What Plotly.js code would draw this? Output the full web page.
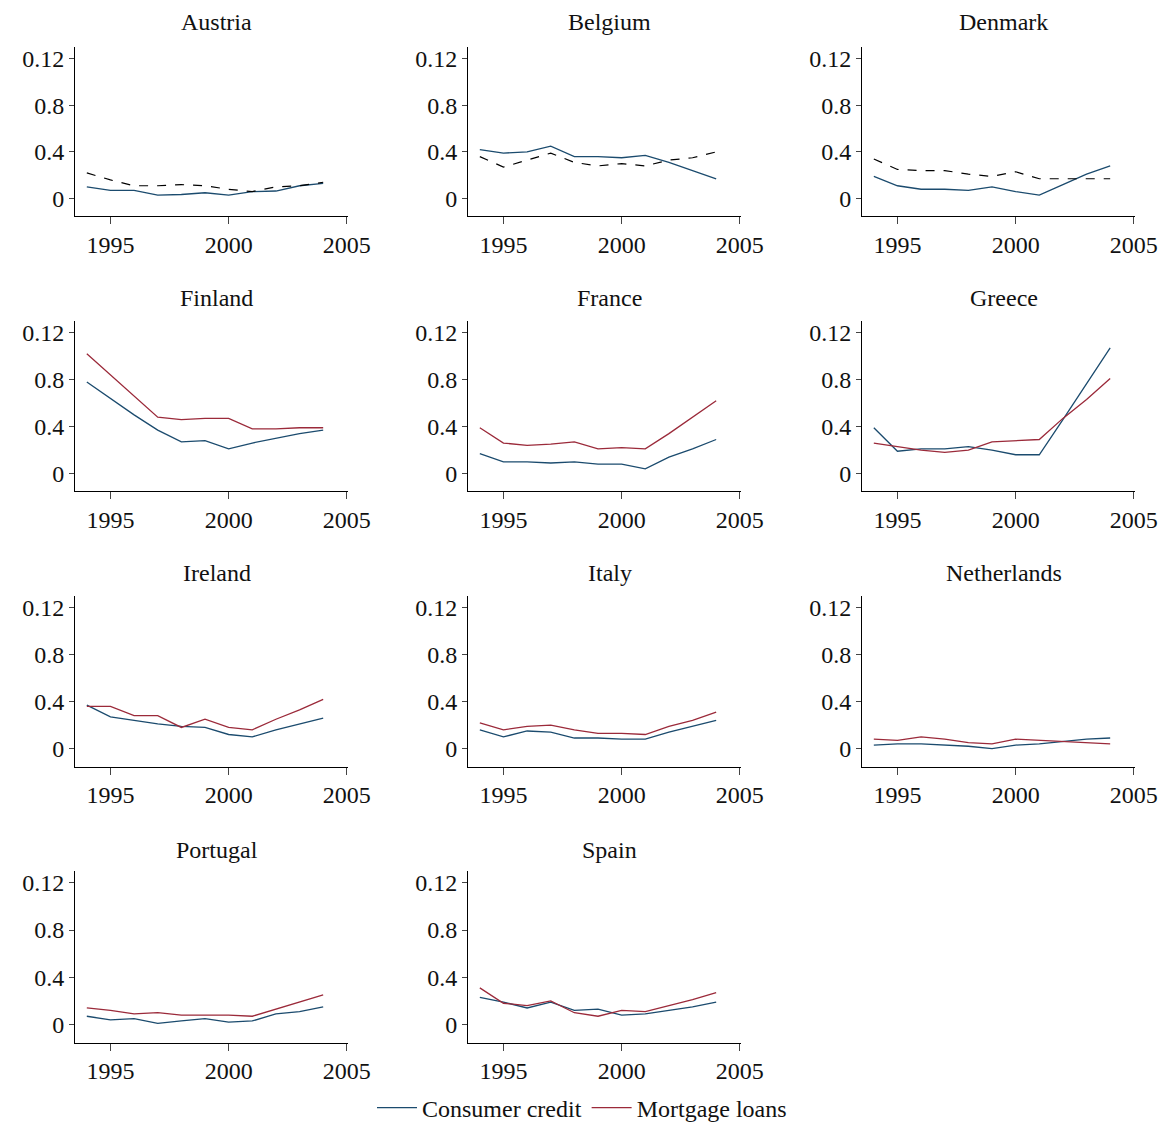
<!DOCTYPE html>
<html>
<head>
<meta charset="utf-8">
<script src="https://cdn.plot.ly/plotly-3.0.1.min.js"></script>
<style>body{margin:0;background:#fff}</style>
</head>
<body>
<div id="chart" style="width:1164px;height:1131px"></div>
<script>
const years = [1994, 1995, 1996, 1997, 1998, 1999, 2000, 2001, 2002, 2003, 2004];
const countries = ["Austria", "Belgium", "Denmark", "Finland", "France", "Greece",
  "Ireland", "Italy", "Netherlands", "Portugal", "Spain"];
// first three panels show a dashed second series instead of mortgage loans
const dashedPanels = ["Austria", "Belgium", "Denmark"];

const consumer = {
  Austria:     [.010,.007,.007,.003,.0035,.005,.003,.006,.0065,.011,.013],
  Belgium:     [.042,.039,.040,.045,.036,.036,.035,.037,.031,.024,.017],
  Denmark:     [.019,.011,.008,.008,.007,.010,.006,.003,.012,.021,.028],
  Finland:     [.078,.064,.050,.037,.027,.028,.021,.026,.030,.034,.037],
  France:      [.017,.010,.010,.009,.010,.008,.008,.004,.014,.021,.029],
  Greece:      [.039,.019,.021,.021,.023,.020,.016,.016,.046,.077,.107],
  Ireland:     [.037,.027,.024,.021,.019,.018,.012,.010,.016,.021,.026],
  Italy:       [.016,.010,.015,.014,.009,.009,.008,.008,.014,.019,.024],
  Netherlands: [.003,.004,.004,.003,.002,.000,.003,.004,.006,.008,.009],
  Portugal:    [.007,.004,.005,.001,.003,.005,.002,.003,.009,.011,.015],
  Spain:       [.023,.019,.014,.019,.012,.013,.008,.009,.012,.015,.019]
};
const mortgage = {
  Austria:     [.022,.016,.011,.011,.012,.011,.008,.006,.010,.011,.014],
  Belgium:     [.036,.027,.033,.039,.031,.028,.030,.028,.033,.035,.040],
  Denmark:     [.034,.025,.024,.024,.021,.019,.023,.017,.017,.017,.017],
  Finland:     [.102,.084,.066,.048,.046,.047,.047,.038,.038,.039,.039],
  France:      [.039,.026,.024,.025,.027,.021,.022,.021,.034,.048,.062],
  Greece:      [.026,.023,.020,.018,.020,.027,.028,.029,.047,.063,.081],
  Ireland:     [.036,.036,.028,.028,.018,.025,.018,.016,.025,.033,.042],
  Italy:       [.022,.016,.019,.020,.016,.013,.013,.012,.019,.024,.031],
  Netherlands: [.008,.007,.010,.008,.005,.004,.008,.007,.006,.005,.004],
  Portugal:    [.014,.012,.009,.010,.008,.008,.008,.007,.013,.019,.025],
  Spain:       [.031,.018,.016,.020,.010,.007,.012,.011,.016,.021,.027]
};
const yTickVals = [0, 0.04, 0.08, 0.12];
const yTickText = ["0", "0.4", "0.8", "0.12"];
const xTickVals = [1995, 2000, 2005];

const W = 1164, H = 1131;
const colX = [[75, 348], [468, 741], [862, 1135]];
const rowY = [[47, 218], [323, 495], [600, 772], [877, 1050]];
const titleY = [22, 300, 577, 856];
const blue = "#1b4b6e", red = "#9b2a3a";
const font = {family: "Liberation Serif, serif", size: 24, color: "#111"};

let data = [];
let layout = {
  width: W, height: H, margin: {l: 0, r: 0, t: 0, b: 0},
  paper_bgcolor: "#fff", plot_bgcolor: "#fff", font: font,
  showlegend: true,
  legend: {orientation: "h", x: 0.5, xanchor: "center", y: 15 / H, yanchor: "middle",
    font: {family: font.family, size: 24}, itemwidth: 40, tracegroupgap: 0},
  annotations: []
};

countries.forEach((c, i) => {
  const r = Math.floor(i / 3), k = i % 3, n = i + 1;
  const xa = n === 1 ? "xaxis" : "xaxis" + n, ya = n === 1 ? "yaxis" : "yaxis" + n;
  const xr = n === 1 ? "x" : "x" + n, yr = n === 1 ? "y" : "y" + n;
  layout[xa] = {
    domain: [colX[k][0] / W, colX[k][1] / W], anchor: yr, range: [1993.5, 2005.05],
    tickvals: xTickVals, ticks: "outside", ticklen: 7, showgrid: false, zeroline: false,
    showline: true, linecolor: "#000", linewidth: 1, tickfont: font
  };
  layout[ya] = {
    domain: [1 - rowY[r][1] / H, 1 - rowY[r][0] / H], anchor: xr, range: [-0.0153, 0.1302],
    tickvals: yTickVals, ticktext: yTickText, ticks: "outside", ticklen: 5, showgrid: false,
    zeroline: false, showline: true, linecolor: "#000", linewidth: 1, tickfont: font
  };
  const dashed = dashedPanels.includes(c);
  data.push({x: years, y: consumer[c], xaxis: xr, yaxis: yr, mode: "lines",
    name: "Consumer credit", line: {color: blue, width: 1.3},
    showlegend: c === "Finland", legendgroup: "cc"});
  data.push({x: years, y: mortgage[c], xaxis: xr, yaxis: yr, mode: "lines",
    name: "Mortgage loans",
    line: dashed ? {color: "#000", width: 1.2, dash: "dash"} : {color: red, width: 1.3},
    showlegend: c === "Finland", legendgroup: "ml"});
  layout.annotations.push({text: c, xref: "paper", yref: "paper",
    x: ((colX[k][0] + colX[k][1]) / 2 + 5) / W, y: 1 - titleY[r] / H,
    xanchor: "center", yanchor: "middle", showarrow: false, font: font});
});

Plotly.newPlot("chart", data, layout, {displayModeBar: false});
</script>
</body>
</html>
